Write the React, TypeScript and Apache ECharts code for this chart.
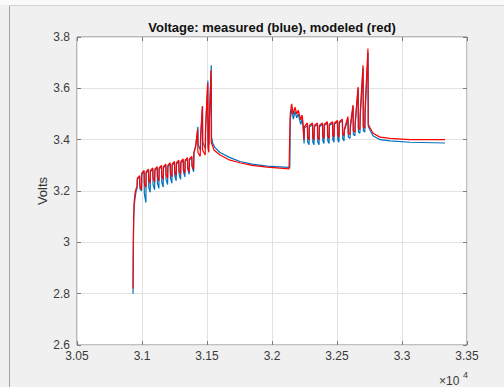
import React, { useEffect, useRef } from "react";
import * as echarts from "echarts";

// Axis ranges (time in seconds, voltage in volts)
const X_MIN = 30500;
const X_MAX = 33500;
const X_STEP = 500;
const Y_MIN = 2.6;
const Y_MAX = 3.8;
const Y_STEP = 0.2;

const TITLE = "Voltage: measured (blue), modeled (red)";
const Y_NAME = "Volts";

// Measured cell voltage [time s, volts]
const measuredVolts: [number, number][] = [
  [30931, 2.8], [30933, 2.95], [30936, 3.08], [30940, 3.14], [30946, 3.17], [30955, 3.2], [30962, 3.21],
  [30964, 3.245], [30982, 3.255], [30984, 3.21], [30996, 3.2],
  [30998, 3.265], [31016, 3.275], [31018, 3.19], [31030, 3.155],
  [31032, 3.27], [31050, 3.28], [31052, 3.215], [31063, 3.195],
  [31065, 3.275], [31083, 3.285], [31085, 3.225], [31097, 3.205],
  [31099, 3.28], [31117, 3.29], [31119, 3.23], [31130, 3.21],
  [31132, 3.285], [31150, 3.295], [31152, 3.235], [31163, 3.215],
  [31165, 3.29], [31183, 3.3], [31185, 3.245], [31197, 3.225],
  [31199, 3.295], [31217, 3.305], [31219, 3.25], [31230, 3.23],
  [31232, 3.3], [31250, 3.31], [31252, 3.26], [31263, 3.24],
  [31265, 3.305], [31283, 3.315], [31285, 3.265], [31297, 3.245],
  [31299, 3.31], [31317, 3.32], [31319, 3.275], [31330, 3.255],
  [31332, 3.315], [31350, 3.325], [31352, 3.285], [31363, 3.265],
  [31365, 3.32], [31383, 3.33], [31385, 3.295], [31397, 3.275],
  [31400, 3.35], [31414, 3.38], [31430, 3.45], [31432, 3.38], [31450, 3.36],
  [31452, 3.42], [31466, 3.53], [31468, 3.39], [31488, 3.365],
  [31490, 3.45], [31507, 3.63], [31509, 3.4], [31516, 3.38],
  [31518, 3.47], [31533, 3.69], [31535, 3.41],
  [31545, 3.385], [31560, 3.37], [31600, 3.35], [31677, 3.33], [31754, 3.315], [31846, 3.305], [31962, 3.297], [32131, 3.292],
  [32137, 3.292], [32141, 3.48], [32152, 3.52], [32164, 3.48], [32177, 3.51], [32190, 3.485], [32202, 3.5],
  [32221, 3.46], [32231, 3.48], [32238, 3.455], [32247, 3.385],
  [32249, 3.445], [32273, 3.455], [32275, 3.39], [32285, 3.38],
  [32288, 3.45], [32312, 3.46], [32314, 3.39], [32323, 3.38],
  [32326, 3.45], [32350, 3.46], [32352, 3.39], [32362, 3.38],
  [32365, 3.45], [32389, 3.46], [32391, 3.395], [32400, 3.385],
  [32403, 3.455], [32427, 3.465], [32429, 3.395], [32439, 3.385],
  [32442, 3.455], [32466, 3.465], [32468, 3.4], [32477, 3.39],
  [32480, 3.46], [32504, 3.47], [32506, 3.4], [32515, 3.39],
  [32518, 3.465], [32542, 3.475], [32544, 3.405], [32554, 3.395],
  [32557, 3.435], [32585, 3.48], [32587, 3.41], [32600, 3.405],
  [32603, 3.445], [32624, 3.53], [32626, 3.42], [32638, 3.415],
  [32641, 3.465], [32663, 3.6], [32665, 3.43], [32676, 3.425],
  [32679, 3.49], [32701, 3.68], [32703, 3.435], [32714, 3.43],
  [32717, 3.51], [32739, 3.74], [32741, 3.45],
  [32777, 3.415], [32831, 3.4], [32908, 3.395], [33062, 3.39], [33331, 3.387],
];

// Model output voltage [time s, volts]
const modeledVolts: [number, number][] = [
  [30931, 2.82], [30933, 3.0], [30936, 3.1], [30940, 3.16], [30946, 3.19], [30955, 3.21], [30962, 3.215],
  [30964, 3.25], [30982, 3.26], [30984, 3.22], [30996, 3.205],
  [30998, 3.27], [31016, 3.28], [31018, 3.23], [31030, 3.215],
  [31032, 3.275], [31050, 3.285], [31052, 3.245], [31063, 3.23],
  [31065, 3.28], [31083, 3.29], [31085, 3.25], [31097, 3.235],
  [31099, 3.285], [31117, 3.295], [31119, 3.255], [31130, 3.24],
  [31132, 3.29], [31150, 3.3], [31152, 3.26], [31163, 3.245],
  [31165, 3.295], [31183, 3.305], [31185, 3.265], [31197, 3.25],
  [31199, 3.3], [31217, 3.31], [31219, 3.27], [31230, 3.255],
  [31232, 3.305], [31250, 3.315], [31252, 3.275], [31263, 3.26],
  [31265, 3.31], [31283, 3.32], [31285, 3.28], [31297, 3.265],
  [31299, 3.315], [31317, 3.325], [31319, 3.285], [31330, 3.27],
  [31332, 3.32], [31350, 3.33], [31352, 3.29], [31363, 3.275],
  [31365, 3.325], [31383, 3.335], [31385, 3.3], [31397, 3.285],
  [31399, 3.35], [31412, 3.37], [31428, 3.44], [31430, 3.35], [31448, 3.335],
  [31450, 3.4], [31464, 3.53], [31466, 3.36], [31486, 3.34],
  [31488, 3.43], [31505, 3.62], [31507, 3.37], [31514, 3.35],
  [31516, 3.45], [31531, 3.67], [31533, 3.39],
  [31554, 3.36], [31600, 3.34], [31677, 3.32], [31754, 3.31], [31846, 3.3], [31962, 3.293], [32131, 3.286],
  [32136, 3.286], [32140, 3.5], [32151, 3.54], [32164, 3.5], [32177, 3.527], [32190, 3.5], [32202, 3.515],
  [32221, 3.477], [32231, 3.496], [32238, 3.47], [32246, 3.4],
  [32248, 3.45], [32272, 3.465], [32274, 3.41], [32285, 3.4],
  [32287, 3.455], [32311, 3.465], [32313, 3.41], [32323, 3.4],
  [32325, 3.455], [32349, 3.465], [32351, 3.41], [32362, 3.4],
  [32364, 3.455], [32388, 3.465], [32390, 3.415], [32400, 3.405],
  [32402, 3.46], [32426, 3.47], [32428, 3.415], [32439, 3.405],
  [32441, 3.46], [32465, 3.47], [32467, 3.42], [32477, 3.41],
  [32479, 3.465], [32503, 3.475], [32505, 3.42], [32515, 3.41],
  [32517, 3.47], [32541, 3.48], [32543, 3.425], [32554, 3.415],
  [32556, 3.44], [32584, 3.49], [32586, 3.425], [32600, 3.42],
  [32602, 3.455], [32623, 3.535], [32625, 3.435], [32638, 3.43],
  [32640, 3.47], [32662, 3.605], [32664, 3.445], [32676, 3.44],
  [32678, 3.5], [32700, 3.69], [32702, 3.45], [32714, 3.445],
  [32716, 3.52], [32738, 3.755], [32740, 3.46],
  [32777, 3.425], [32831, 3.41], [32908, 3.405], [33062, 3.4], [33331, 3.4],
];

const FONT = "'Liberation Sans', Arial, Helvetica, sans-serif";
const TICK_COLOR = "#7c7c7c";
const LABEL_COLOR = "#3a3a3a";
const GRID_COLOR = "#e2e2e2";

export default function App() {
  const ref = useRef<HTMLDivElement>(null);

  useEffect(() => {
    if (!ref.current) return;
    const chart = echarts.init(ref.current, null, { renderer: "svg" });

    const tick = { show: true, inside: true, length: 4, lineStyle: { color: TICK_COLOR, width: 1 } };
    const xCommon = { type: "value", min: X_MIN, max: X_MAX, interval: X_STEP, axisLine: { show: false } };
    const yCommon = { type: "value", min: Y_MIN, max: Y_MAX, interval: Y_STEP, axisLine: { show: false } };

    chart.setOption({
      animation: false,
      backgroundColor: "#f0f0f0",
      textStyle: { fontFamily: FONT },
      grid: {
        left: 77,
        right: 37,
        top: 37,
        bottom: 42,
        show: true,
        backgroundColor: "#ffffff",
        borderColor: "#808080",
        borderWidth: 1,
      },
      xAxis: [
        {
          ...xCommon,
          position: "bottom",
          axisTick: tick,
          axisLabel: {
            color: LABEL_COLOR,
            fontSize: 12,
            fontFamily: FONT,
            margin: 5,
            formatter: (v: number) => String(parseFloat((v / 1e4).toFixed(2))),
          },
          splitLine: { show: true, lineStyle: { color: GRID_COLOR, width: 1 } },
        },
        {
          ...xCommon,
          position: "top",
          axisTick: tick,
          axisLabel: { show: false },
          splitLine: { show: false },
        },
      ],
      yAxis: [
        {
          ...yCommon,
          position: "left",
          axisTick: tick,
          axisLabel: {
            color: LABEL_COLOR,
            fontSize: 12,
            fontFamily: FONT,
            margin: 7,
            formatter: (v: number) => String(parseFloat(v.toFixed(1))),
          },
          splitLine: { show: true, lineStyle: { color: GRID_COLOR, width: 1 } },
        },
        {
          ...yCommon,
          position: "right",
          axisTick: tick,
          axisLabel: { show: false },
          splitLine: { show: false },
        },
      ],
      graphic: [
        { type: "rect", silent: true, shape: { x: 0, y: 0, width: 504, height: 5 }, style: { fill: "#fafafa" } },
        { type: "line", silent: true, shape: { x1: 9, y1: 5.5, x2: 504, y2: 5.5 }, style: { stroke: "#d2d2d2", lineWidth: 1 } },
        { type: "line", silent: true, shape: { x1: 9.5, y1: 6, x2: 9.5, y2: 387 }, style: { stroke: "#a4a4a4", lineWidth: 1 } },
        {
          type: "text",
          silent: true,
          x: 272,
          y: 27,
          style: { text: TITLE, align: "center", verticalAlign: "middle", fontSize: 13, fontWeight: "bold", fill: "#111", fontFamily: FONT },
        },
        {
          type: "text",
          silent: true,
          x: 42,
          y: 191,
          rotation: Math.PI / 2,
          style: { text: Y_NAME, align: "center", verticalAlign: "middle", fontSize: 13, fill: "#333", fontFamily: FONT },
        },
        {
          type: "text",
          silent: true,
          x: 439,
          y: 381,
          style: { text: "×10", align: "left", verticalAlign: "middle", fontSize: 12, fill: LABEL_COLOR, fontFamily: FONT },
        },
        {
          type: "text",
          silent: true,
          x: 463,
          y: 375,
          style: { text: "4", align: "left", verticalAlign: "middle", fontSize: 9, fill: LABEL_COLOR, fontFamily: FONT },
        },
      ],
      series: [
        {
          name: "measured",
          type: "line",
          data: measuredVolts,
          showSymbol: false,
          symbol: "none",
          silent: true,
          lineStyle: { color: "#0072BD", width: 1.2 },
          itemStyle: { color: "#0072BD" },
          z: 2,
        },
        {
          name: "modeled",
          type: "line",
          data: modeledVolts,
          showSymbol: false,
          symbol: "none",
          silent: true,
          lineStyle: { color: "#ff0000", width: 1.2 },
          itemStyle: { color: "#ff0000" },
          z: 3,
        },
      ],
    });

    return () => chart.dispose();
  }, []);

  return (
    <div
      ref={ref}
      style={{ position: "absolute", left: 0, top: 0, width: 504, height: 387 }}
    />
  );
}
